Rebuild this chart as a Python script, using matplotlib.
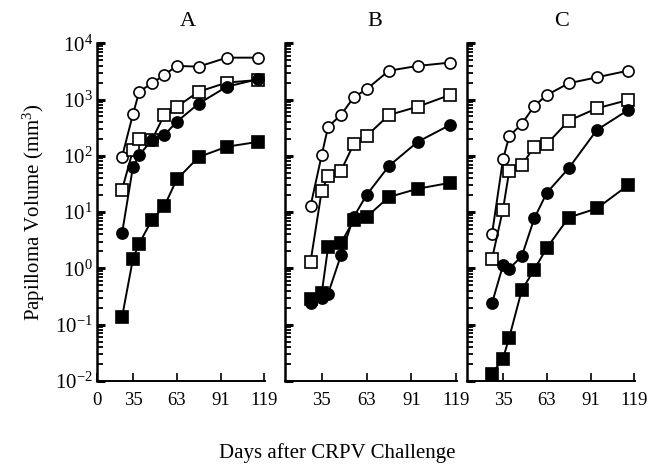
import matplotlib
matplotlib.use('Agg')
import matplotlib.pyplot as plt
from matplotlib.ticker import LogLocator, NullFormatter, FixedLocator

plt.rcParams['font.family'] = ['Liberation Serif', 'DejaVu Serif']
plt.rcParams['mathtext.fontset'] = 'custom'
plt.rcParams['mathtext.rm'] = 'Liberation Serif'
plt.rcParams['mathtext.it'] = 'Liberation Serif:italic'

# days after challenge
days = [28, 35, 39, 47, 55, 63, 77, 95, 115]

# panel A
a_open_circle = [96, 552, 1377, 1940, 2730, 3950, 3840, 5540, 5540]
a_open_square = [25, 126, 200, 190, 530, 745, 1377, 2000, 2220]
a_fill_circle = [4.2, 64, 103, 190, 233, 403, 845, 1690, 2300]
a_fill_square = [0.136, 1.49, 2.76, 7.2, 12.7, 38, 95, 145, 177]

# panel B
b_open_circle = [12.7, 103, 328, 530, 1094, 1518, 3250, 3950, 4520]
b_open_square = [1.3, 23.8, 43.5, 54, 161, 224, 530, 745, 1200]
b_fill_circle = [0.242, 0.30, 0.355, 1.7, 8.2, 20, 66, 177, 351]
b_fill_square = [0.28, 0.36, 2.4, 2.8, 7.2, 8.2, 18.5, 26, 33]

# panel C
c_open_circle = [4.1, 86, 224, 366, 766, 1200, 1940, 2480, 3250]
c_open_square = [1.49, 11.1, 54, 68, 145, 161, 420, 697, 980]
c_fill_circle = [0.242, 1.13, 0.99, 1.64, 7.7, 22, 60, 287, 650]
c_fill_square = [0.0134, 0.025, 0.059, 0.41, 0.95, 2.3, 8.0, 11.6, 30]

panels = ['A', 'B', 'C']
xticks = [35, 63, 91, 119]

fig = plt.figure(figsize=(6.49, 4.75), dpi=100)
bottom, height = 0.198, 0.711
boxes = [(0.1495, 0.259), (0.439, 0.265), (0.7196, 0.259)]
title_x = [0.54, 0.52, 0.56]

data = [
    (a_open_circle, a_open_square, a_fill_circle, a_fill_square),
    (b_open_circle, b_open_square, b_fill_circle, b_fill_square),
    (c_open_circle, c_open_square, c_fill_circle, c_fill_square),
]

for i, (oc, osq, fc, fsq) in enumerate(data):
    left, width = boxes[i]
    ax = fig.add_axes([left, bottom, width, height])
    kw = dict(color='black', lw=1.4, markeredgecolor='black', markeredgewidth=1.2)
    ax.plot(days, oc, marker='o', ms=8, markerfacecolor='white', **kw)
    ax.plot(days, osq, marker='s', ms=8, markerfacecolor='white', **kw)
    ax.plot(days, fc, marker='o', ms=8, markerfacecolor='black', **kw)
    ax.plot(days, fsq, marker='s', ms=9, markerfacecolor='black', **kw)

    ax.set_yscale('log')
    ax.set_ylim(1e-2, 1e4)
    ax.set_xlim(12, 119.5)
    ax.spines['top'].set_visible(False)
    ax.spines['right'].set_visible(False)
    ax.spines['left'].set_linewidth(1.8)
    ax.spines['bottom'].set_linewidth(1.4)

    ax.yaxis.set_major_locator(LogLocator(base=10, numticks=10))
    ax.yaxis.set_minor_locator(LogLocator(base=10, subs=range(2, 10), numticks=100))
    ax.yaxis.set_minor_formatter(NullFormatter())
    ax.tick_params(axis='y', which='major', direction='in', length=6, width=2.2, pad=3)
    ax.tick_params(axis='y', which='minor', direction='in', length=4, width=1.3)

    if i == 0:
        ax.xaxis.set_major_locator(FixedLocator([12] + xticks))
        ax.set_xticklabels(['0'] + [str(t) for t in xticks])
        ax.set_yticks([10.0 ** e for e in range(-2, 5)])
        ax.set_yticklabels([f'$10^{{{e}}}$' for e in range(-2, 5)])
        ax.set_ylabel('Papilloma Volume (mm$^3$)', fontsize=15, labelpad=6)
    else:
        ax.xaxis.set_major_locator(FixedLocator(xticks))
        ax.set_xticklabels([str(t) for t in xticks])
        ax.tick_params(axis='y', which='both', labelleft=False)

    ax.tick_params(axis='x', direction='in', length=6, width=1.2, pad=8, labelsize=13.5)
    ax.tick_params(axis='y', labelsize=15)
    ax.text(title_x[i], 1.035, panels[i], transform=ax.transAxes,
            ha='center', va='bottom', fontsize=16)

fig.text(0.519, 0.046, 'Days after CRPV Challenge', ha='center', va='center', fontsize=15)

fig.savefig('out.png', dpi=100)
